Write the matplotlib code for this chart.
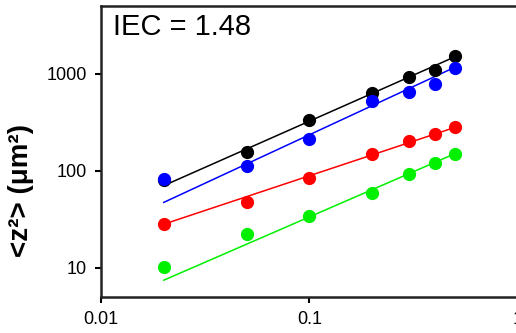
import numpy as np
import matplotlib.pyplot as plt
from matplotlib.ticker import FixedLocator, FixedFormatter, NullLocator

plt.rcParams['font.family'] = ['Liberation Sans', 'DejaVu Sans']

# time (x) and <z^2> values per series
t = [0.02, 0.05, 0.1, 0.2, 0.3, 0.4, 0.5]
z_black = [80, 157, 331, 635, 916, 1100, 1528]
z_blue = [82, 112, 210, 521, 644, 785, 1143]
z_red = [28, 47, 84, 149, 204, 239, 283]
z_green = [10.2, 22, 34, 59, 93, 121, 149]

# power-law fit lines, values at start and end of fit range
fit_t = [0.02, 0.5]
fit_black = [70, 1500]
fit_blue = [47, 1170]
fit_red = [28, 280]
fit_green = [7.4, 150]

x_ticks = [0.01, 0.1, 1]
x_labels = ["0.01", "0.1", "1"]
y_ticks = [10, 100, 1000]
y_labels = ["10", "100", "1000"]

fig = plt.figure(figsize=(5.16, 3.33), dpi=100)
ax = fig.add_axes([0.1957, 0.109, 0.808, 0.873])

series = [
    (z_black, fit_black, "black"),
    (z_blue, fit_blue, "#0000ff"),
    (z_red, fit_red, "#ff0000"),
    (z_green, fit_green, "#00f000"),
]
for vals, fit, col in series:
    ax.plot(fit_t, fit, color=col, linewidth=1.1, zorder=2)
    ax.plot(t, vals, "o", color=col, markersize=8.5, zorder=3)

ax.set_xscale("log")
ax.set_yscale("log")
ax.set_xlim(0.01, 1)
ax.set_ylim(5, 5000)

ax.xaxis.set_major_locator(FixedLocator(x_ticks))
ax.xaxis.set_major_formatter(FixedFormatter(x_labels))
ax.yaxis.set_major_locator(FixedLocator(y_ticks))
ax.yaxis.set_major_formatter(FixedFormatter(y_labels))
ax.xaxis.set_minor_locator(NullLocator())
ax.yaxis.set_minor_locator(NullLocator())
ax.tick_params(direction="out", length=4, width=1.5, labelsize=13, pad=6)

for s in ["left", "bottom", "top"]:
    ax.spines[s].set_linewidth(1.8)
    ax.spines[s].set_color("#222222")
ax.spines["right"].set_visible(False)

ax.set_ylabel("<z²> (μm²)", fontsize=20, fontweight="bold")
ax.yaxis.set_label_coords(-0.16, 0.365)
ax.text(0.03, 0.975, "IEC = 1.48", transform=ax.transAxes, fontsize=21,
        ha="left", va="top")

fig.savefig("out.png", dpi=100)
